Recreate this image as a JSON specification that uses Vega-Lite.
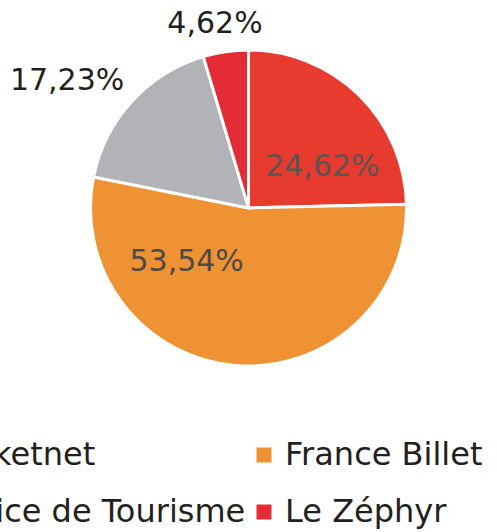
{
  "$schema": "https://vega.github.io/schema/vega-lite/v6.json",
  "width": 497,
  "height": 416,
  "autosize": {"type": "none"},
  "padding": {"left": 0, "top": 0, "right": 0, "bottom": 116},
  "background": "white",
  "config": {"view": {"stroke": null}, "font": "DejaVu Sans"},
  "data": {
    "values": [
      {"source": "Ticketnet", "share": 24.62, "label": "24,62%", "rank": 1},
      {"source": "France Billet", "share": 53.54, "label": "53,54%", "rank": 2},
      {"source": "Office de Tourisme", "share": 17.23, "label": "17,23%", "rank": 3},
      {"source": "Le Zéphyr", "share": 4.62, "label": "4,62%", "rank": 4}
    ]
  },
  "encoding": {
    "theta": {"field": "share", "type": "quantitative", "stack": true},
    "order": {"field": "rank", "type": "quantitative"}
  },
  "layer": [
    {
      "mark": {"type": "arc", "radius": 158, "stroke": "white", "strokeWidth": 3},
      "encoding": {
        "color": {
          "field": "source",
          "type": "nominal",
          "scale": {
            "domain": ["Ticketnet", "France Billet", "Office de Tourisme", "Le Zéphyr"],
            "range": ["#e63b2e", "#ef9234", "#b1b3b6", "#e42c36"]
          },
          "legend": {
            "title": null,
            "orient": "none",
            "legendX": -89,
            "legendY": 439,
            "direction": "horizontal",
            "columns": 2,
            "columnPadding": 2,
            "rowPadding": 25,
            "padding": 0,
            "symbolType": "square",
            "symbolSize": 225,
            "symbolStrokeWidth": 0,
            "labelOffset": 5,
            "labelFontSize": 32,
            "labelFont": "DejaVu Sans",
            "labelColor": "#231f20",
            "labelLimit": 0
          }
        }
      }
    },
    {
      "mark": {"type": "text", "radius": 90, "dx": 11, "dy": 23, "fontSize": 30, "font": "DejaVu Sans", "fill": "#5c5450"},
      "encoding": {"text": {"condition": {"test": "datum.source === 'Ticketnet'", "field": "label"}, "value": ""}}
    },
    {
      "mark": {"type": "text", "radius": 90, "dx": -54, "dy": -36, "fontSize": 30, "font": "DejaVu Sans", "fill": "#4f4a45"},
      "encoding": {"text": {"condition": {"test": "datum.source === 'France Billet'", "field": "label"}, "value": ""}}
    },
    {
      "mark": {"type": "text", "radius": 190, "dx": -41, "dy": 1, "fontSize": 30, "font": "DejaVu Sans", "fill": "#231f20"},
      "encoding": {"text": {"condition": {"test": "datum.source === 'Office de Tourisme'", "field": "label"}, "value": ""}}
    },
    {
      "mark": {"type": "text", "radius": 190, "dx": -6, "dy": 4, "fontSize": 30, "font": "DejaVu Sans", "fill": "#231f20"},
      "encoding": {"text": {"condition": {"test": "datum.source === 'Le Zéphyr'", "field": "label"}, "value": ""}}
    }
  ]
}
